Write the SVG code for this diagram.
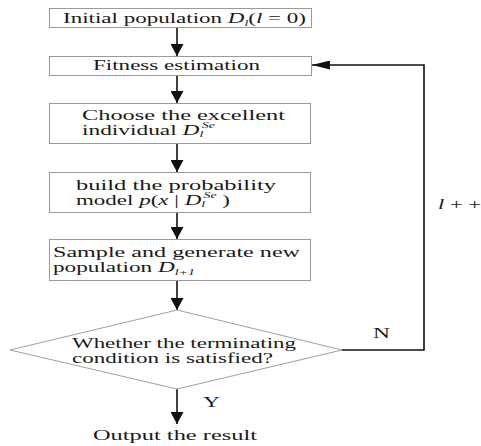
<svg xmlns="http://www.w3.org/2000/svg" width="481" height="446" viewBox="0 0 481 446">
<defs>
<style>
.box{fill:#fff;stroke:#9a9a9a;stroke-width:1}
.t{font-size:15px;fill:#1a1a1a}
.i{font-style:italic}
.s{font-size:9px;font-style:italic}
.ln{stroke:#111;stroke-width:1.6;fill:none}
</style>
<marker id="ah" viewBox="0 0 12 13" refX="12" refY="6.5" markerWidth="12" markerHeight="13" markerUnits="userSpaceOnUse" orient="auto">
<path d="M0,0 L12,6.5 L0,13 Z" fill="#111"/>
</marker>
<marker id="ahl" viewBox="0 0 18 9" refX="18" refY="4.5" markerWidth="18" markerHeight="9" markerUnits="userSpaceOnUse" orient="auto">
<path d="M0,0 L18,4.5 L0,9 Z" fill="#111"/>
</marker>
</defs>
<rect width="481" height="446" fill="#fff"/>
<g font-family="'Liberation Serif', 'Times New Roman', serif">
<g id="connectors">
<line class="ln" x1="177" y1="27" x2="177" y2="56" marker-end="url(#ah)"/>
<line class="ln" x1="177" y1="75" x2="177" y2="103" marker-end="url(#ah)"/>
<line class="ln" x1="177" y1="143" x2="177" y2="172" marker-end="url(#ah)"/>
<line class="ln" x1="177" y1="212" x2="177" y2="239" marker-end="url(#ah)"/>
<line class="ln" x1="177" y1="280" x2="177" y2="310" marker-end="url(#ah)"/>
<line class="ln" x1="177" y1="389" x2="177" y2="424" marker-end="url(#ah)"/>
<polyline class="ln" points="342,350 424,350 424,65 312,65" marker-end="url(#ahl)"/>
<text class="t" x="373" y="338" textLength="17" lengthAdjust="spacingAndGlyphs">N</text>
<text class="t" x="203" y="407" textLength="17" lengthAdjust="spacingAndGlyphs">Y</text>
<text class="t" x="438" y="209" textLength="43" lengthAdjust="spacingAndGlyphs"><tspan class="i">l</tspan> + +</text>
</g>
<g id="n1">
<rect class="box" x="49.5" y="8.5" width="262" height="19"/>
<text class="t" x="63" y="23" textLength="243" lengthAdjust="spacingAndGlyphs">Initial population <tspan class="i">D</tspan><tspan class="s" dy="3">l</tspan><tspan dy="-3">(</tspan><tspan class="i">l</tspan> = 0)</text>
</g>
<g id="n2">
<rect class="box" x="49.5" y="56.5" width="262" height="19"/>
<text class="t" x="93" y="70" textLength="167" lengthAdjust="spacingAndGlyphs">Fitness estimation</text>
</g>
<g id="n3">
<rect class="box" x="49.5" y="103.5" width="261" height="40"/>
<text class="t" x="82" y="120" textLength="203" lengthAdjust="spacingAndGlyphs">Choose the excellent</text>
<text class="t" x="82" y="135" textLength="133" lengthAdjust="spacingAndGlyphs">individual <tspan class="i">D</tspan><tspan class="s" dy="2">l</tspan><tspan class="s" dx="-1" dy="-9">Se</tspan></text>
</g>
<g id="n4">
<rect class="box" x="49.5" y="172.5" width="261" height="40"/>
<text class="t" x="76" y="190" textLength="200" lengthAdjust="spacingAndGlyphs">build the probability</text>
<text class="t" x="76" y="205" textLength="154" lengthAdjust="spacingAndGlyphs">model <tspan class="i">p</tspan>(<tspan class="i">x</tspan> | <tspan class="i">D</tspan><tspan class="s" dy="2">l</tspan><tspan class="s" dx="-1" dy="-9">Se</tspan><tspan dy="7"> )</tspan></text>
</g>
<g id="n5">
<rect class="box" x="49.5" y="239.5" width="261" height="41"/>
<text class="t" x="53" y="257" textLength="247" lengthAdjust="spacingAndGlyphs">Sample and generate new</text>
<text class="t" x="53" y="272" textLength="142" lengthAdjust="spacingAndGlyphs">population <tspan class="i">D</tspan><tspan class="s" dy="3">l+1</tspan></text>
</g>
<g id="n6">
<polygon points="177,310 342,350 177,389 10,350" fill="#fff" stroke="#a0a0a0" stroke-width="1"/>
<text class="t" x="72" y="348" textLength="224" lengthAdjust="spacingAndGlyphs">Whether the terminating</text>
<text class="t" x="72" y="363" textLength="201" lengthAdjust="spacingAndGlyphs">condition is satisfied?</text>
</g>
<g id="n7">
<text class="t" x="93" y="440" textLength="164" lengthAdjust="spacingAndGlyphs">Output the result</text>
</g>
</g>
</svg>
